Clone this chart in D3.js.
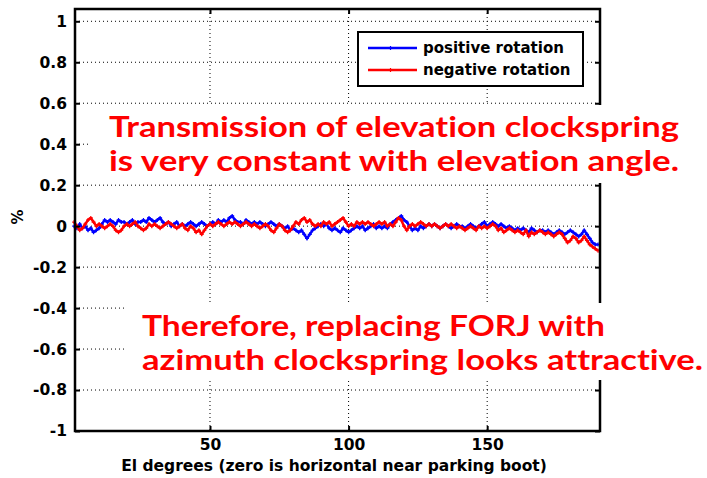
<!DOCTYPE html>
<html><head><meta charset="utf-8">
<script src="https://cdn.jsdelivr.net/npm/d3@7"></script>
<style>body{margin:0;background:#fff;} svg{display:block;} text{font-variant-ligatures:none;}</style>
</head><body>
<svg id="c" width="707" height="478"></svg>
<script>
const positiveRotation = [
 0.00,-0.01,0.01,-0.01,0.00,-0.02,-0.01,-0.03,-0.02,-0.01,
 0.01,0.03,0.02,0.03,0.02,0.01,0.03,0.02,0.02,0.01,
 0.02,0.03,0.01,0.02,0.02,0.03,0.02,0.04,0.03,0.02,
 0.03,0.04,0.02,0.01,0.02,0.00,0.01,0.02,0.00,0.01,
 0.00,0.01,0.02,0.01,0.00,0.01,0.02,0.01,0.00,0.01,
 0.02,0.01,0.03,0.02,0.03,0.02,0.04,0.05,0.03,0.02,
 0.02,0.01,0.03,0.02,0.01,0.02,0.01,0.02,0.01,0.00,
 0.01,0.02,0.01,0.00,0.01,0.00,-0.01,0.00,-0.02,-0.01,
 -0.02,-0.03,-0.02,-0.04,-0.06,-0.04,-0.02,-0.01,0.00,0.01,
 0.00,0.01,-0.01,-0.02,-0.01,-0.02,-0.03,-0.01,-0.02,-0.03,
 -0.02,-0.01,0.00,-0.01,0.00,-0.02,-0.01,0.00,0.01,-0.01,
 0.00,-0.01,0.00,-0.01,0.01,0.02,0.03,0.04,0.05,0.03,
 0.02,0.00,-0.02,-0.01,-0.02,0.00,-0.01,0.00,0.01,0.00,
 0.01,0.00,-0.01,0.00,0.01,0.00,-0.01,0.00,0.01,0.00,
 0.00,-0.01,0.00,0.01,0.00,-0.01,0.00,0.01,0.02,0.00,
 0.01,0.02,0.01,0.00,0.01,0.00,-0.01,0.00,-0.01,-0.02,
 -0.01,-0.02,-0.01,-0.02,-0.03,-0.01,-0.02,-0.03,-0.02,-0.02,
 -0.03,-0.02,-0.03,-0.04,-0.03,-0.02,-0.03,-0.04,-0.03,-0.02,
 -0.03,-0.04,-0.05,-0.04,-0.02,-0.04,-0.06,-0.08,-0.09,-0.09
];
const negativeRotation = [
 0.02,0.00,-0.02,-0.01,0.01,0.03,0.04,0.02,0.00,0.01,
 0.00,-0.01,0.00,0.01,0.00,-0.02,-0.03,-0.02,0.00,0.01,
 0.00,0.01,0.02,0.00,-0.01,-0.02,-0.01,0.01,0.00,0.01,
 0.00,-0.01,0.00,0.01,0.02,0.01,0.00,-0.01,0.00,0.01,
 -0.01,-0.02,0.00,-0.01,-0.03,-0.02,-0.04,-0.02,0.00,0.01,
 0.00,0.01,0.02,0.01,0.00,0.01,0.02,0.01,0.02,0.01,
 0.00,0.01,0.02,0.01,0.00,0.01,0.00,-0.01,0.00,0.01,
 0.00,-0.02,-0.03,-0.01,0.01,0.00,-0.02,-0.03,-0.02,0.00,
 0.02,0.01,0.03,0.04,0.02,0.03,0.01,0.00,0.01,0.00,
 0.02,0.01,0.02,0.00,0.01,0.02,0.03,0.04,0.02,0.00,
 0.01,0.00,0.02,0.01,0.02,0.01,0.02,0.01,0.00,0.01,
 0.02,0.01,0.02,0.00,0.01,0.00,0.02,0.04,0.03,0.00,
 -0.02,0.00,0.01,0.00,0.01,0.02,0.01,0.00,0.01,0.00,
 0.01,0.00,-0.01,0.00,0.01,0.00,0.01,0.00,-0.01,0.00,
 -0.01,-0.02,-0.01,0.00,-0.01,-0.02,0.00,-0.01,0.00,-0.01,
 0.00,0.01,0.00,-0.02,-0.01,-0.03,-0.02,-0.01,-0.02,-0.03,
 -0.02,-0.03,-0.04,-0.02,-0.05,-0.03,-0.04,-0.03,-0.02,-0.03,
 -0.04,-0.03,-0.04,-0.05,-0.04,-0.03,-0.04,-0.06,-0.08,-0.07,
 -0.05,-0.06,-0.08,-0.07,-0.05,-0.07,-0.09,-0.10,-0.11,-0.12
];
const xTicks = [50, 100, 150];
const yTicks = [1, 0.8, 0.6, 0.4, 0.2, 0, -0.2, -0.4, -0.6, -0.8, -1];
const seriesNames = ["positive rotation", "negative rotation"];
const seriesColors = ["#0000ff", "#ff0000"];
const annotation1 = ["Transmission of elevation clockspring", "is very constant with elevation angle."];
const annotation2 = ["Therefore, replacing FORJ with", "azimuth clockspring looks attractive."];
const xLabel = "El degrees (zero is horizontal near parking boot)";
const yLabel = "%";

const svg = d3.select("#c");
const L = 75, R = 600, T = 9, B = 431;
const x = d3.scaleLinear().domain([1.3, 190.7]).range([L, R]);
const y = d3.scaleLinear().domain([-1, 1.06]).range([B, T]);
const font = "'DejaVu Sans', Verdana, sans-serif";

svg.append("rect").attr("width",707).attr("height",478).attr("fill","#fff");

// grid
const grid = svg.append("g").attr("stroke","#000").attr("stroke-width",1).attr("stroke-dasharray","1,3");
grid.selectAll(".gx").data(xTicks).join("line")
  .attr("x1",d=>x(d)).attr("x2",d=>x(d)).attr("y1",T).attr("y2",B);
grid.selectAll(".gy").data(yTicks).join("line")
  .attr("x1",L).attr("x2",R).attr("y1",d=>y(d)).attr("y2",d=>y(d));

// data
const series = [positiveRotation, negativeRotation];
const line = d3.line().x((d,i)=>x(i+1)).y(d=>y(d));
series.forEach((s,k)=>{
  svg.append("path").datum(s).attr("d",line).attr("fill","none")
    .attr("stroke",seriesColors[k]).attr("stroke-width",2.5).attr("stroke-linejoin","round");
  svg.append("g").selectAll("path").data(s).join("path")
    .attr("d",(d,i)=>{const px=x(i+1), py=y(d); return `M${px-2},${py}H${px+2}M${px},${py-2}V${py+2}`;})
    .attr("stroke",seriesColors[k]).attr("stroke-width",1.2);
});

// axes
const ax = svg.append("g");
ax.append("g").attr("transform",`translate(0,${B})`)
  .call(d3.axisBottom(x).tickValues(xTicks).tickSizeInner(-5).tickSizeOuter(0).tickPadding(8));
ax.append("g").attr("transform",`translate(0,${T})`)
  .call(d3.axisTop(x).tickValues(xTicks).tickSizeInner(-5).tickSizeOuter(0).tickFormat(""));
ax.append("g").attr("transform",`translate(${L},0)`)
  .call(d3.axisLeft(y).tickValues(yTicks).tickSizeInner(-5).tickSizeOuter(0).tickPadding(8).tickFormat(d=>String(d)));
ax.append("g").attr("transform",`translate(${R},0)`)
  .call(d3.axisRight(y).tickValues(yTicks).tickSizeInner(-5).tickSizeOuter(0).tickFormat(""));
ax.selectAll(".domain").remove();
ax.selectAll(".tick line").attr("stroke","#000").attr("stroke-width",2);
ax.selectAll(".tick text").attr("fill","#000").style("font-family",font).style("font-weight","bold").style("font-size","15.5px");
svg.append("rect").attr("x",L).attr("y",T).attr("width",R-L).attr("height",B-T)
  .attr("fill","none").attr("stroke","#000").attr("stroke-width",2.5);

// labels
svg.append("text").attr("x",334).attr("y",471).attr("text-anchor","middle")
  .style("font-family",font).style("font-weight","bold").style("font-size","15.5px").text(xLabel);
svg.append("text").attr("transform","translate(23,217) rotate(-90)").attr("text-anchor","middle")
  .style("font-family",font).style("font-weight","bold").style("font-size","15px").text(yLabel);

// legend
const lg = svg.append("g");
lg.append("rect").attr("x",358).attr("y",32).attr("width",225).attr("height",54)
  .attr("fill","#fff").attr("stroke","#000").attr("stroke-width",2);
seriesNames.forEach((n,k)=>{
  const yy = 48 + k*22;
  lg.append("line").attr("x1",368).attr("x2",417).attr("y1",yy).attr("y2",yy)
    .attr("stroke",seriesColors[k]).attr("stroke-width",2.5);
  lg.append("path").attr("d",`M390.5,${yy-2}V${yy+2}`).attr("stroke",seriesColors[k]).attr("stroke-width",1.2);
  lg.append("text").attr("x",423).attr("y",yy+5).style("font-family",font).style("font-weight","bold")
    .style("font-size","15px").text(n);
});

// annotations
const annFont = "Lato, 'Open Sans', sans-serif";
svg.append("rect").attr("x",88).attr("y",105).attr("width",619).attr("height",78).attr("fill","#fff");
svg.append("rect").attr("x",125).attr("y",303).attr("width",582).attr("height",77).attr("fill","#fff");
const ann = [
  {t:annotation1[0], x:109, y:137, w:570},
  {t:annotation1[1], x:109, y:171, w:570},
  {t:annotation2[0], x:142, y:336, w:463},
  {t:annotation2[1], x:142, y:370, w:561}
];
ann.forEach(a=>{
  svg.append("text").attr("x",a.x).attr("y",a.y).attr("fill","#ff0000")
    .attr("textLength",a.w).attr("lengthAdjust","spacingAndGlyphs")
    .style("font-family",annFont).style("font-weight","bold").style("font-size","29px").text(a.t);
});
</script>
</body></html>
